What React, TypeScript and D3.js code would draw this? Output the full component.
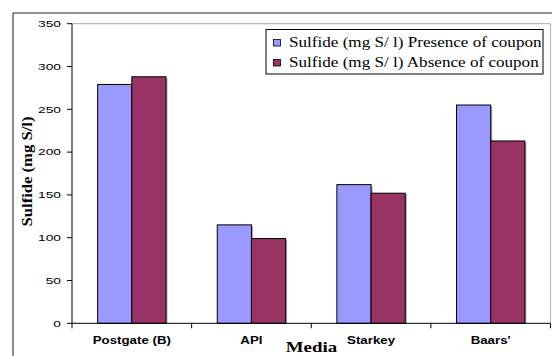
import React from "react";
import * as d3 from "d3";

const categories = ["Postgate (B)", "API", "Starkey", "Baars'"];
const seriesNames = [
  "Sulfide (mg S/ l) Presence of coupon",
  "Sulfide (mg S/ l) Absence of coupon",
];
const presence = [279, 115, 162, 255];
const absence = [288, 99, 152, 213];
const yTicks = [0, 50, 100, 150, 200, 250, 300, 350];
const colors = ["#9999FF", "#993366"];

const W = 552;
const H = 356;
const plot = { left: 72, right: 550.5, top: 23.7, bottom: 323.3 };
const SANS = "Liberation Sans, Arial, sans-serif";
const SERIF = "Liberation Serif, Times New Roman, serif";

export default function App() {
  const x0 = d3.scaleBand<string>().domain(categories).range([plot.left, plot.right]).padding(0);
  const x1 = d3
    .scaleBand<string>()
    .domain(seriesNames)
    .range([0, x0.bandwidth()])
    .paddingInner(0)
    .paddingOuter(0.75);
  const y = d3.scaleLinear().domain([0, 350]).range([plot.bottom, plot.top]);
  const series = [presence, absence];
  const boundaries = [...categories.map((c) => x0(c)!), plot.right];

  return (
    <svg
      width={W}
      height={H}
      style={{ position: "absolute", left: 0, top: 0, background: "#fff" }}
    >
      {/* outer border */}
      <line x1={13} y1={13} x2={W} y2={13} stroke="#222" strokeWidth={1} />
      <line x1={13} y1={13} x2={13} y2={H} stroke="#222" strokeWidth={1} />

      {/* plot area gray border */}
      <line x1={plot.left} y1={plot.top} x2={plot.right} y2={plot.top} stroke="#b8b8b8" strokeWidth={1.2} />
      <line x1={plot.right} y1={plot.top} x2={plot.right} y2={plot.bottom} stroke="#b8b8b8" strokeWidth={1.2} />

      {/* bars */}
      {categories.map((c, i) =>
        seriesNames.map((s, j) => {
          const v = series[j][i];
          const bx = x0(c)! + x1(s)!;
          return (
            <g key={c + s}>
              <rect
                x={bx + 1.5}
                y={y(v) + 1.5}
                width={x1.bandwidth()}
                height={plot.bottom - y(v) - 1.5}
                fill="#a8a8a8"
              />
              <rect
                x={bx}
                y={y(v)}
                width={x1.bandwidth()}
                height={plot.bottom - y(v)}
                fill={colors[j]}
                stroke="#000"
                strokeWidth={1}
              />
            </g>
          );
        })
      )}

      {/* y axis */}
      <line x1={plot.left} y1={plot.top} x2={plot.left} y2={plot.bottom} stroke="#000" strokeWidth={1} />
      {yTicks.map((t) => (
        <g key={t}>
          <line x1={plot.left - 5} x2={plot.left} y1={y(t)} y2={y(t)} stroke="#000" />
          <text
            transform={`translate(61,${y(t)}) scale(1.45,1)`}
            dy="0.35em"
            textAnchor="end"
            fontFamily={SANS}
            fontSize={9.5}
            fill="#000"
          >
            {t}
          </text>
        </g>
      ))}

      {/* x axis */}
      <line x1={plot.left} y1={plot.bottom} x2={plot.right} y2={plot.bottom} stroke="#000" strokeWidth={1} />
      {boundaries.map((b, i) => (
        <line key={i} x1={b} x2={b} y1={plot.bottom} y2={plot.bottom + 5} stroke="#000" />
      ))}
      {categories.map((c) => (
        <text
          key={c}
          transform={`translate(${x0(c)! + x0.bandwidth() / 2},343.5) scale(1.33,1)`}
          textAnchor="middle"
          fontFamily={SANS}
          fontWeight="bold"
          fontSize={10}
          fill="#000"
        >
          {c}
        </text>
      ))}

      {/* axis titles */}
      <text
        transform="translate(311.5,352) scale(1.26,1)"
        textAnchor="middle"
        fontFamily={SERIF}
        fontWeight="bold"
        fontSize={15}
        fill="#000"
      >
        Media
      </text>
      <text
        transform={`translate(32,171.5) rotate(-90) scale(1.11,1)`}
        textAnchor="middle"
        fontFamily={SERIF}
        fontWeight="bold"
        fontSize={15}
        fill="#000"
      >
        Sulfide (mg S/l)
      </text>

      {/* legend */}
      <rect x={266} y={29.5} width={277} height={44.5} fill="#fff" stroke="#000" strokeWidth={1} />
      {seriesNames.map((s, j) => (
        <g key={s} transform={`translate(0, ${j * 20})`}>
          <rect x={273.5} y={39.5} width={7} height={6.5} fill={colors[j]} stroke="#000" strokeWidth={0.8} />
          <text
            transform="translate(289,46.7) scale(1.14,1)"
            fontFamily={SERIF}
            fontSize={15}
            fill="#000"
          >
            {s}
          </text>
        </g>
      ))}
    </svg>
  );
}
